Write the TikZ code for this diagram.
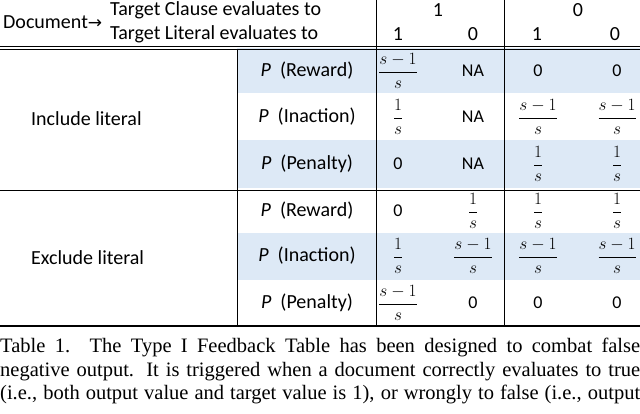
\documentclass[tikz,border=0pt]{standalone}
\usepackage{amsmath}
\usepackage{fontspec}
\setmainfont{Carlito}
\newfontfamily\capfont{Liberation Serif}
\newfontfamily\arrowfont{DejaVu Sans}
\definecolor{cellblue}{RGB}{221,233,246}
\begin{document}
\begin{tikzpicture}[x=1pt,y=-1pt,
  txt/.style={font=\fontsize{20}{22}\selectfont, inner sep=0pt},
  val/.style={font=\fontsize{18}{20}\selectfont, inner sep=0pt},
  rule/.style={line width=0.8pt},
  thick rule/.style={line width=1.3pt}]
\useasboundingbox (0,0) rectangle (640,413);
% shading
\foreach \a/\b in {48/93,140/188,233/280}{
  \fill[cellblue] (237,\a) rectangle (640,\b);}
% rules
\draw[rule] (0,46.5) -- (640,46.5);
\draw[rule] (0,49.5) -- (640,49.5);
\draw[rule] (0,190) -- (640,190);
\draw[thick rule] (0,326) -- (640,326);
\draw[rule] (237,49.5) -- (237,326);
\draw[rule] (376,0) -- (376,326);
\draw[rule] (504,0) -- (504,326);
% header
\node[txt, anchor=west] (doc) at (3,22) {Document{\arrowfont\fontsize{17}{19}\selectfont →}};
\node[txt, anchor=west] (tc) at (110,10) {Target Clause evaluates to};
\node[txt, anchor=west] (tl) at (110,34) {Target Literal evaluates to};
\node[txt] (h1) at (438,10) {1};
\node[txt] (h0) at (578,10) {0};
\node[txt] (a1) at (398,34) {1};
\node[txt] (a2) at (473,34) {0};
\node[txt] (a3) at (537,34) {1};
\node[txt] (a4) at (615,34) {0};
% group labels
\node[txt, anchor=west] (inc) at (31,119) {Include literal};
\node[txt, anchor=west] (exc) at (31,258) {Exclude literal};
% P labels
\foreach \n/\y/\t in {r1/71/Reward,i1/117/Inaction,p1/164/Penalty,r2/211/Reward,i2/256/Inaction,p2/303/Penalty}{
  \node[txt] (\n) at (307,\y) {\textit{P}\ \ (\t)};}
% values
\def\fa{$\dfrac{s-1}{s}$}
\def\fb{$\dfrac{1}{s}$}
\foreach \y/\c/\d/\e/\f [count=\k] in {
  71/\fa/NA/0/0,
  117/\fb/NA/\fa/\fa,
  164/0/NA/\fb/\fb,
  211/0/\fb/\fb/\fb,
  256/\fb/\fa/\fa/\fa,
  303/\fa/0/0/0}{
  \node[val] (v\k a) at (398,\y) {\c};
  \node[val] (v\k b) at (473,\y) {\d};
  \node[val] (v\k c) at (538,\y) {\e};
  \node[val] (v\k d) at (617,\y) {\f};}
% caption
\node[inner sep=0pt, anchor=north west, font=\capfont\fontsize{20.5}{23.5}\selectfont, align=left] (cap) at (0,338) {%
\makebox[640pt][s]{Table 1. The Type I Feedback Table has been designed to combat false}\\
\makebox[640pt][s]{negative output. It is triggered when a document correctly evaluates to true}\\
\makebox[640pt][s]{(i.e., both output value and target value is 1), or wrongly to false (i.e., output}};
\end{tikzpicture}
\end{document}
